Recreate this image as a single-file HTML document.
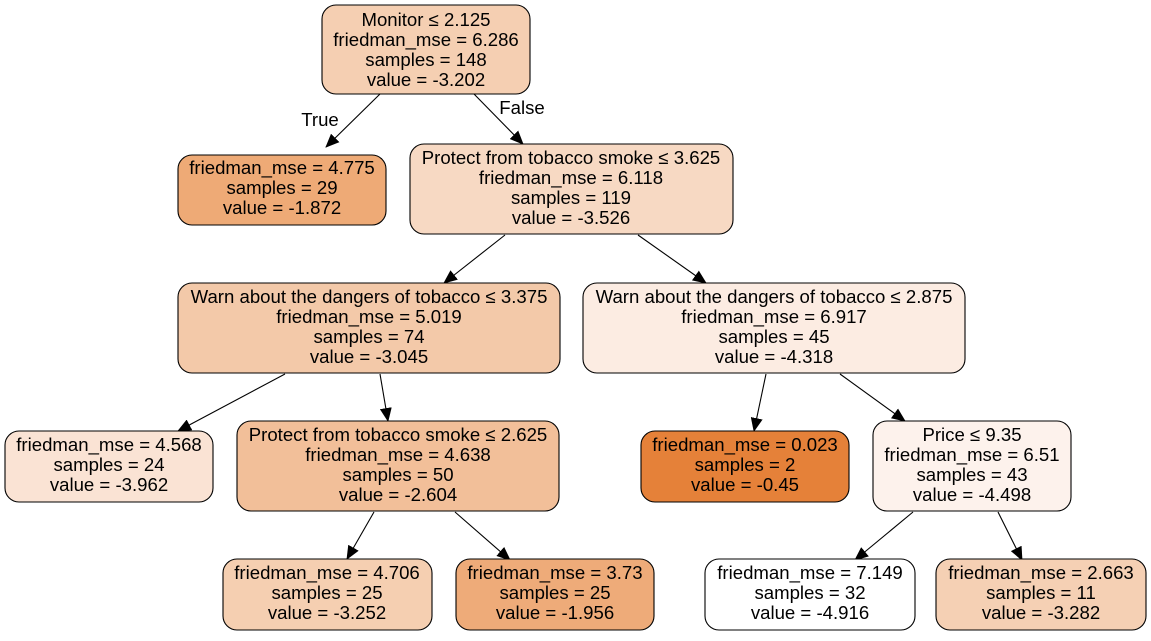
<!DOCTYPE html>
<html><head><meta charset="utf-8"><style>
html,body{margin:0;padding:0;background:#fff;}
svg text{font-family:"Liberation Sans",Arial,sans-serif;font-size:18.6px;fill:#000;text-anchor:middle;}
</style></head><body>
<svg width="1151" height="636" viewBox="0 0 1151 636" xmlns="http://www.w3.org/2000/svg">
<defs><marker id="a" markerWidth="14" markerHeight="12" refX="13" refY="6" orient="auto" markerUnits="userSpaceOnUse"><path d="M0,0 L14,6 L0,12 z" fill="#000"/></marker></defs>
<g stroke="#000" stroke-width="1.1" fill="none">
<line x1="380" y1="94" x2="326" y2="147" marker-end="url(#a)"/>
<line x1="474" y1="94" x2="523" y2="144" marker-end="url(#a)"/>
<line x1="505" y1="235" x2="444" y2="283" marker-end="url(#a)"/>
<line x1="638" y1="235" x2="706" y2="283" marker-end="url(#a)"/>
<line x1="285" y1="374" x2="178" y2="431" marker-end="url(#a)"/>
<line x1="380" y1="374" x2="388" y2="421" marker-end="url(#a)"/>
<line x1="766" y1="374" x2="754" y2="431" marker-end="url(#a)"/>
<line x1="840" y1="374" x2="905" y2="421" marker-end="url(#a)"/>
<line x1="374" y1="512" x2="347" y2="559" marker-end="url(#a)"/>
<line x1="455" y1="512" x2="510" y2="560" marker-end="url(#a)"/>
<line x1="913" y1="512" x2="855" y2="560" marker-end="url(#a)"/>
<line x1="998" y1="512" x2="1022" y2="560" marker-end="url(#a)"/>
</g>
<text x="320" y="126">True</text>
<text x="522" y="114">False</text>
<g stroke="#000" stroke-width="1.1">
<rect x="322" y="5" width="208" height="89" rx="14" fill="#f5cfb2"/>
<rect x="178" y="155" width="208" height="70" rx="14" fill="#eeaa76"/>
<rect x="410" y="144" width="323" height="90" rx="14" fill="#f7d9c3"/>
<rect x="178" y="283" width="382" height="90" rx="14" fill="#f3c9a9"/>
<rect x="583" y="283" width="382" height="90" rx="14" fill="#fcece2"/>
<rect x="5" y="431" width="208" height="71" rx="14" fill="#fae3d4"/>
<rect x="237" y="421" width="322" height="90" rx="14" fill="#f2bf99"/>
<rect x="641" y="431" width="208" height="71" rx="14" fill="#e58139"/>
<rect x="873" y="421" width="198" height="90" rx="14" fill="#fdf2ec"/>
<rect x="223" y="559" width="209" height="71" rx="14" fill="#f5cfb1"/>
<rect x="456" y="559" width="198" height="71" rx="14" fill="#eeab79"/>
<rect x="705" y="559" width="210" height="71" rx="14" fill="#ffffff"/>
<rect x="936" y="559" width="210" height="71" rx="14" fill="#f5d0b4"/>
</g>
<text x="426" y="26">Monitor ≤ 2.125</text><text x="426" y="46">friedman_mse = 6.286</text><text x="426" y="66">samples = 148</text><text x="426" y="86">value = -3.202</text>
<text x="282" y="174">friedman_mse = 4.775</text><text x="282" y="194">samples = 29</text><text x="282" y="214">value = -1.872</text>
<text x="571" y="164">Protect from tobacco smoke ≤ 3.625</text><text x="571" y="184">friedman_mse = 6.118</text><text x="571" y="204">samples = 119</text><text x="571" y="224">value = -3.526</text>
<text x="369" y="303">Warn about the dangers of tobacco ≤ 3.375</text><text x="369" y="323">friedman_mse = 5.019</text><text x="369" y="343">samples = 74</text><text x="369" y="363">value = -3.045</text>
<text x="774" y="303">Warn about the dangers of tobacco ≤ 2.875</text><text x="774" y="323">friedman_mse = 6.917</text><text x="774" y="343">samples = 45</text><text x="774" y="363">value = -4.318</text>
<text x="109" y="451">friedman_mse = 4.568</text><text x="109" y="471">samples = 24</text><text x="109" y="491">value = -3.962</text>
<text x="398" y="441">Protect from tobacco smoke ≤ 2.625</text><text x="398" y="461">friedman_mse = 4.638</text><text x="398" y="481">samples = 50</text><text x="398" y="501">value = -2.604</text>
<text x="745" y="451">friedman_mse = 0.023</text><text x="745" y="471">samples = 2</text><text x="745" y="491">value = -0.45</text>
<text x="972" y="441">Price ≤ 9.35</text><text x="972" y="461">friedman_mse = 6.51</text><text x="972" y="481">samples = 43</text><text x="972" y="501">value = -4.498</text>
<text x="327" y="579">friedman_mse = 4.706</text><text x="327" y="599">samples = 25</text><text x="327" y="619">value = -3.252</text>
<text x="555" y="579">friedman_mse = 3.73</text><text x="555" y="599">samples = 25</text><text x="555" y="619">value = -1.956</text>
<text x="810" y="579">friedman_mse = 7.149</text><text x="810" y="599">samples = 32</text><text x="810" y="619">value = -4.916</text>
<text x="1041" y="579">friedman_mse = 2.663</text><text x="1041" y="599">samples = 11</text><text x="1041" y="619">value = -3.282</text>
</svg>
</body></html>
